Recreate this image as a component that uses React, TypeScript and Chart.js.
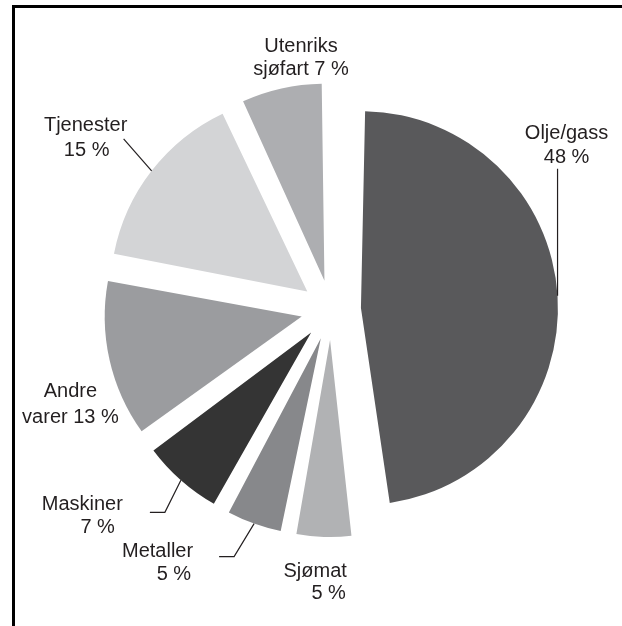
import React, { useEffect, useRef } from 'react';
import { Chart, registerables } from 'chart.js';

Chart.register(...registerables);

// ---- data ----
const categories = ['Olje/gass', 'Sjømat', 'Metaller', 'Maskiner', 'Andre varer', 'Tjenester', 'Utenriks sjøfart'];
const shares = [48, 5, 5, 7, 13, 15, 7];
const colors = ['#59595b', '#b1b2b4', '#87888b', '#343434', '#9b9c9f', '#d3d4d6', '#adaeb1'];

// ---- layout (not data) ----
const R = 197;
const OFFSET = 120; // Chart.js moves an arc by offset / 4
const SHIFT = OFFSET / 4;
const INK = '#231f20';
const FONT = '20px "Liberation Sans", Arial, sans-serif';

type LabelLayout = {
  leader?: number[][];
  align: CanvasTextAlign;
  text: number[][];
};

// positions relative to the outer-edge point of each slice at its mid angle
const LAYOUT: LabelLayout[] = [
  { leader: [[0, -127]], align: 'center', text: [[9, -157], [9, -133]] },
  { align: 'right', text: [[23, 40], [22, 62]] },
  { leader: [[-20, 33], [-35, 33]], align: 'right', text: [[-61, 33], [-63, 56]] },
  { leader: [[-16, 32], [-31, 32]], align: 'right', text: [[-58, 30], [-66, 53]] },
  { align: 'center', text: [[-39, 37], [-39, 63]] },
  { leader: [[-28, -32]], align: 'center', text: [[-66, -40], [-65, -15]] },
  { align: 'center', text: [[19.5, -36], [19.5, -13]] },
];

function labelLines(i: number): string[] {
  const words = categories[i].split(' ');
  const first = words[0];
  const rest = words.slice(1).join(' ');
  const val = `${shares[i]} %`;
  return [first, rest ? `${rest} ${val}` : val];
}

const radiusFix = {
  id: 'radiusFix',
  beforeDatasetsDraw(chart: any) {
    const meta = chart.getDatasetMeta(0);
    meta.data.forEach((arc: any) => {
      const fix = 1 - Math.sin(Math.min(Math.PI, arc.circumference || 0));
      arc.outerRadius = R - SHIFT * fix;
    });
  },
};

const sliceLabels = {
  id: 'sliceLabels',
  afterDatasetsDraw(chart: any) {
    const ctx: CanvasRenderingContext2D = chart.ctx;
    const meta = chart.getDatasetMeta(0);
    ctx.save();
    meta.data.forEach((arc: any, i: number) => {
      const lay = LAYOUT[i];
      if (!lay) return;
      const mid = (arc.startAngle + arc.endAngle) / 2;
      const cx = arc.x + Math.cos(mid) * SHIFT;
      const cy = arc.y + Math.sin(mid) * SHIFT;
      const ex = cx + Math.cos(mid) * R;
      const ey = cy + Math.sin(mid) * R;
      if (lay.leader) {
        ctx.beginPath();
        ctx.moveTo(ex, ey);
        lay.leader.forEach(([dx, dy]) => ctx.lineTo(ex + dx, ey + dy));
        ctx.strokeStyle = INK;
        ctx.lineWidth = 1.2;
        ctx.stroke();
      }
      ctx.font = FONT;
      ctx.fillStyle = INK;
      ctx.textAlign = lay.align;
      ctx.textBaseline = 'alphabetic';
      labelLines(i).forEach((line, k) => {
        const [dx, dy] = lay.text[k];
        ctx.fillText(line, ex + dx, ey + dy);
      });
    });
    ctx.restore();
  },
};

export default function App() {
  const ref = useRef<HTMLCanvasElement | null>(null);

  useEffect(() => {
    if (!ref.current) return;
    const chart = new Chart(ref.current, {
      type: 'pie',
      data: {
        labels: categories,
        datasets: [
          {
            data: shares,
            backgroundColor: colors,
            borderWidth: 0,
            offset: OFFSET,
            hoverOffset: 0,
            radius: R,
          } as any,
        ],
      },
      options: {
        responsive: false,
        animation: false,
        devicePixelRatio: 1,
        events: [],
        layout: { padding: { left: 40, right: 0, top: 0, bottom: 6 } },
        plugins: {
          legend: { display: false },
          tooltip: { enabled: false },
        },
      },
      plugins: [radiusFix, sliceLabels],
    });
    return () => chart.destroy();
  }, []);

  return (
    <div style={{ position: 'absolute', left: 0, top: 0, width: 622, height: 626, background: '#fff' }}>
      <div
        style={{
          position: 'absolute',
          left: 12,
          top: 5,
          right: 0,
          bottom: 0,
          borderTop: '3px solid #000',
          borderLeft: '3px solid #000',
        }}
      />
      <canvas ref={ref} width={622} height={626} style={{ position: 'absolute', left: 0, top: 0 }} />
    </div>
  );
}
